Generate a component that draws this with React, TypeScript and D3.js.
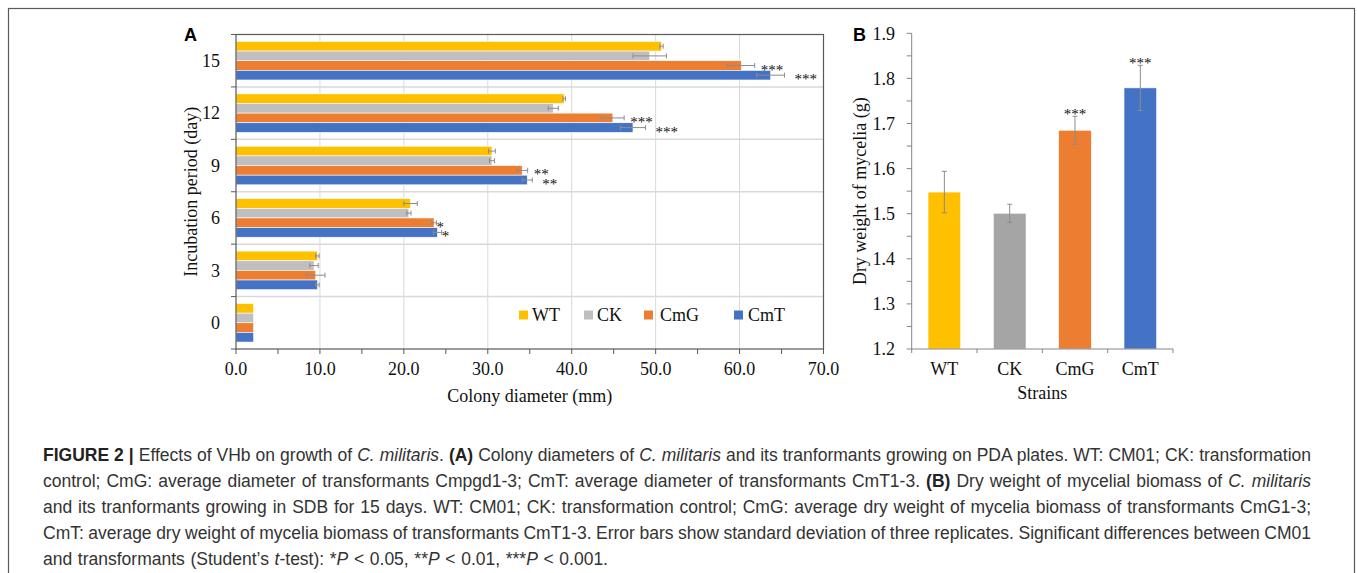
import React, { useEffect, useRef } from 'react';
import * as d3 from 'd3';

const W = 1357;
const H = 573;

// Panel A: colony diameter (mm) by incubation day
const days = [0, 3, 6, 9, 12, 15];
const strains = ['WT', 'CK', 'CmG', 'CmT'];
const diamWT = [2.1, 9.7, 20.8, 30.5, 39.1, 50.7];
const diamCK = [2.1, 9.3, 20.6, 30.5, 37.8, 49.3];
const diamCmG = [2.1, 9.5, 23.6, 34.1, 44.9, 60.2];
const diamCmT = [2.1, 9.7, 24.0, 34.7, 47.3, 63.7];
const errWT = [0, 0.2, 0.8, 0.4, 0.15, 0.2];
const errCK = [0, 0.5, 0.25, 0.3, 0.6, 2.0];
const errCmG = [0, 1.1, 0.3, 0.65, 1.35, 1.6];
const errCmT = [0, 0.2, 0.5, 0.6, 1.5, 1.65];
const sigCmG = ['', '', '*', '**', '***', '***'];
const sigCmT = ['', '', '*', '**', '***', '***'];
const xTicksA = [0, 10, 20, 30, 40, 50, 60, 70];

// Panel B: dry weight of mycelia (g)
const dryWeight = [1.548, 1.501, 1.685, 1.779];
const dryErr = [0.046, 0.02, 0.031, 0.05];
const drySig = ['', '', '***', '***'];
const yTicksB = [1.2, 1.3, 1.4, 1.5, 1.6, 1.7, 1.8, 1.9];

const colorsA = ['#FFC000', '#BFBFBF', '#ED7D31', '#4472C4'];
const colorsB = ['#FFC000', '#A5A5A5', '#ED7D31', '#4472C4'];

// caption runs: [text, style]  b = bold, i = italic
const caption: [string, string][][] = [
  [['FIGURE 2 | ', 'b'], ['Effects of VHb on growth of ', ''], ['C. militaris', 'i'], ['. ', ''], ['(A)', 'b'],
    [' Colony diameters of ', ''], ['C. militaris', 'i'], [' and its tranformants growing on PDA plates. WT: CM01; CK: transformation', '']],
  [['control; CmG: average diameter of transformants Cmpgd1-3; CmT: average diameter of transformants CmT1-3. ', ''], ['(B)', 'b'],
    [' Dry weight of mycelial biomass of ', ''], ['C. militaris', 'i']],
  [['and its tranformants growing in SDB for 15 days. WT: CM01; CK: transformation control; CmG: average dry weight of mycelia biomass of transformants CmG1-3;', '']],
  [['CmT: average dry weight of mycelia biomass of transformants CmT1-3. Error bars show standard deviation of three replicates. Significant differences between CM01', '']],
  [['and transformants (Student\u2019s ', ''], ['t', 'i'], ['-test): *', ''], ['P', 'i'], [' < 0.05, **', ''], ['P', 'i'],
    [' < 0.01, ***', ''], ['P', 'i'], [' < 0.001.', '']],
];

const serif = '"Liberation Serif", "Times New Roman", serif';
const sans = '"Liberation Sans", Arial, Helvetica, sans-serif';

export default function App() {
  const ref = useRef<SVGSVGElement>(null);

  useEffect(() => {
    document.body.style.margin = '0';
    document.body.style.overflow = 'hidden';
    const svg = d3.select(ref.current);
    svg.selectAll('*').remove();

    svg.append('rect')
      .attr('x', 8.5).attr('y', 8.5).attr('width', 1346).attr('height', 700)
      .attr('fill', 'none').attr('stroke', '#5a5a5a').attr('stroke-width', 1.2);

    // ---------- Panel A ----------
    const gA = svg.append('g');
    const left = 236, right = 823.5, top = 34.5, bottom = 349;
    const x = d3.scaleLinear().domain([0, 70]).range([left, right]);
    const y = d3.scaleBand<number>().domain([...days].reverse()).range([top, bottom]);
    const yi = d3.scaleBand<string>().domain(strains).range([0, y.bandwidth()]).paddingOuter(0.72);
    const values = [diamWT, diamCK, diamCmG, diamCmT];
    const errs = [errWT, errCK, errCmG, errCmT];

    gA.selectAll('line.vg').data(xTicksA.slice(1, -1)).join('line')
      .attr('x1', d => x(d)).attr('x2', d => x(d)).attr('y1', top).attr('y2', bottom)
      .attr('stroke', '#d9d9d9');
    gA.selectAll('line.hg').data([...days].reverse().slice(1)).join('line')
      .attr('x1', left).attr('x2', right).attr('y1', d => y(d)!).attr('y2', d => y(d)!)
      .attr('stroke', '#d9d9d9').attr('stroke-width', 1.5);

    strains.forEach((s, j) => {
      gA.append('g').selectAll('rect').data(days).join('rect')
        .attr('x', x(0))
        .attr('y', (d) => y(d)! + yi(s)!)
        .attr('width', (_, i) => x(values[j][i]) - x(0))
        .attr('height', yi.bandwidth())
        .attr('fill', colorsA[j])
        .attr('stroke', '#fff').attr('stroke-width', 0.6);

      const eb = gA.append('g').attr('stroke', '#8c8c8c').attr('stroke-width', 1);
      days.forEach((d, i) => {
        const e = errs[j][i];
        if (!e) return;
        const cy = y(d)! + yi(s)! + yi.bandwidth() / 2;
        const x0 = x(values[j][i] - e), x1 = x(values[j][i] + e);
        eb.append('line').attr('x1', x0).attr('x2', x1).attr('y1', cy).attr('y2', cy);
        eb.append('line').attr('x1', x0).attr('x2', x0).attr('y1', cy - 2.5).attr('y2', cy + 2.5);
        eb.append('line').attr('x1', x1).attr('x2', x1).attr('y1', cy - 2.5).attr('y2', cy + 2.5);
      });
    });

    const sigs: [string[], number][] = [[sigCmG, 2], [sigCmT, 3]];
    sigs.forEach(([sig, j]) => {
      const s = strains[j];
      gA.append('g').selectAll('text').data(days).join('text')
        .attr('x', (_, i) => {
          const pad = sig[i].length === 1 ? 0 : (j === 3 ? 10 : 6);
          return x(values[j][i] + errs[j][i]) + pad;
        })
        .attr('y', d => y(d)! + yi(s)! + yi.bandwidth() / 2 + 9)
        .attr('font-family', serif).attr('font-size', 15).attr('fill', '#111')
        .text((_, i) => sig[i]);
    });

    gA.append('rect')
      .attr('x', left).attr('y', top).attr('width', right - left).attr('height', bottom - top)
      .attr('fill', 'none').attr('stroke', '#595959').attr('stroke-width', 1.2);

    gA.selectAll('line.xt').data(d3.range(0, 71, 5)).join('line')
      .attr('x1', d => x(d)).attr('x2', d => x(d)).attr('y1', bottom).attr('y2', bottom + 5)
      .attr('stroke', '#595959');
    const bounds = [...days].reverse().map(d => y(d)!).concat([bottom]);
    gA.selectAll('line.yt').data(bounds).join('line')
      .attr('x1', left - 5).attr('x2', left).attr('y1', d => d).attr('y2', d => d)
      .attr('stroke', '#595959');

    gA.selectAll('text.xl').data(xTicksA).join('text')
      .attr('x', d => x(d)).attr('y', 375).attr('text-anchor', 'middle')
      .attr('font-family', serif).attr('font-size', 18).attr('fill', '#111')
      .text(d => d3.format('.1f')(d));
    gA.selectAll('text.yl').data(days).join('text')
      .attr('x', 220).attr('y', d => y(d)! + y.bandwidth() / 2).attr('dy', '0.35em')
      .attr('text-anchor', 'end')
      .attr('font-family', serif).attr('font-size', 18).attr('fill', '#111')
      .text(d => String(d));

    gA.append('text').attr('x', (left + right) / 2).attr('y', 402).attr('text-anchor', 'middle')
      .attr('font-family', serif).attr('font-size', 18).attr('fill', '#111')
      .text('Colony diameter (mm)');
    gA.append('text').attr('transform', `translate(197,${(top + bottom) / 2}) rotate(-90)`)
      .attr('text-anchor', 'middle')
      .attr('font-family', serif).attr('font-size', 18).attr('fill', '#111')
      .text('Incubation period (day)');
    gA.append('text').attr('x', 184).attr('y', 41)
      .attr('font-family', sans).attr('font-weight', 'bold').attr('font-size', 18).attr('fill', '#000')
      .text('A');

    // legend
    const legMarkX = [519, 584, 644, 734];
    const legTextX = [532, 597, 660, 748];
    strains.forEach((s, j) => {
      gA.append('rect').attr('x', legMarkX[j]).attr('y', 310.5).attr('width', 9).attr('height', 9)
        .attr('fill', colorsA[j]);
      gA.append('text').attr('x', legTextX[j]).attr('y', 321)
        .attr('font-family', serif).attr('font-size', 18).attr('fill', '#111').text(s);
    });

    // ---------- Panel B ----------
    const gB = svg.append('g');
    const bl = 911.7, br = 1173, bt = 33.3, bb = 349;
    const xb = d3.scaleBand<string>().domain(strains).range([bl, br]).paddingInner(0.5).paddingOuter(0.25);
    const yb = d3.scaleLinear().domain([1.2, 1.9]).range([bb, bt]);

    gB.selectAll('rect').data(strains).join('rect')
      .attr('x', d => xb(d)!).attr('width', xb.bandwidth())
      .attr('y', (_, i) => yb(dryWeight[i])).attr('height', (_, i) => bb - yb(dryWeight[i]))
      .attr('fill', (_, i) => colorsB[i])
      .attr('stroke', '#fff').attr('stroke-width', 0.6);

    const ebB = gB.append('g').attr('stroke', '#8c8c8c').attr('stroke-width', 1);
    strains.forEach((s, i) => {
      const cx = xb(s)! + xb.bandwidth() / 2;
      const y0 = yb(dryWeight[i] - dryErr[i]), y1 = yb(dryWeight[i] + dryErr[i]);
      ebB.append('line').attr('x1', cx).attr('x2', cx).attr('y1', y0).attr('y2', y1);
      ebB.append('line').attr('x1', cx - 2.5).attr('x2', cx + 2.5).attr('y1', y0).attr('y2', y0);
      ebB.append('line').attr('x1', cx - 2.5).attr('x2', cx + 2.5).attr('y1', y1).attr('y2', y1);
      if (drySig[i]) {
        gB.append('text').attr('x', cx).attr('y', y1 + 3).attr('text-anchor', 'middle')
          .attr('font-family', serif).attr('font-size', 15).attr('fill', '#111').text(drySig[i]);
      }
    });

    const axisCol = '#868686';
    gB.append('line').attr('x1', bl).attr('x2', bl).attr('y1', bt).attr('y2', bb).attr('stroke', axisCol);
    gB.append('line').attr('x1', bl).attr('x2', br).attr('y1', bb).attr('y2', bb).attr('stroke', axisCol);
    gB.selectAll('line.yt').data(d3.range(0, 15).map(k => 1.2 + k * 0.05)).join('line')
      .attr('x1', bl - 5).attr('x2', bl).attr('y1', d => yb(d)).attr('y2', d => yb(d)).attr('stroke', axisCol);
    const bBounds = strains.map(s => xb(s)! - xb.step() * 0.25).concat([br]);
    gB.selectAll('line.xt').data(bBounds).join('line')
      .attr('x1', d => d).attr('x2', d => d).attr('y1', bb).attr('y2', bb + 4).attr('stroke', axisCol);

    gB.selectAll('text.yl').data(yTicksB).join('text')
      .attr('x', 895).attr('y', d => yb(d)).attr('dy', '0.35em').attr('text-anchor', 'end')
      .attr('font-family', serif).attr('font-size', 18).attr('fill', '#111')
      .text(d => d3.format('.1f')(d));
    gB.selectAll('text.xl').data(strains).join('text')
      .attr('x', d => xb(d)! + xb.bandwidth() / 2).attr('y', 375).attr('text-anchor', 'middle')
      .attr('font-family', serif).attr('font-size', 18).attr('fill', '#111')
      .text(d => d);
    gB.append('text').attr('x', (bl + br) / 2).attr('y', 399).attr('text-anchor', 'middle')
      .attr('font-family', serif).attr('font-size', 18).attr('fill', '#111').text('Strains');
    gB.append('text').attr('transform', `translate(866,${(bt + bb) / 2}) rotate(-90)`)
      .attr('text-anchor', 'middle')
      .attr('font-family', serif).attr('font-size', 18).attr('fill', '#111')
      .text('Dry weight of mycelia (g)');
    gB.append('text').attr('x', 853).attr('y', 41)
      .attr('font-family', sans).attr('font-weight', 'bold').attr('font-size', 18).attr('fill', '#000')
      .text('B');

    // ---------- Caption ----------
    // lines 1-4 are justified to the caption width; the last line ends near x = 608
    const capX = 43, capRight = 1311, lastRight = 608, capY0 = 461, capDy = 26;
    caption.forEach((runs, li) => {
      const t = svg.append('text').attr('x', capX).attr('y', capY0 + li * capDy)
        .attr('font-family', sans).attr('font-size', 17.5).attr('fill', '#333')
        .attr('xml:space', 'preserve').style('white-space', 'pre');
      runs.forEach(([txt, st]) => {
        const ts = t.append('tspan').text(txt);
        if (st === 'b') ts.attr('font-weight', 'bold').attr('fill', '#222');
        if (st === 'i') ts.attr('font-style', 'italic');
      });
      const target = li < caption.length - 1 ? capRight : lastRight;
      const node = t.node() as SVGTextElement;
      const len = node.getComputedTextLength();
      const spaces = runs.map(r => r[0]).join('').split(' ').length - 1;
      if (spaces > 0) t.attr('word-spacing', (target - capX - len) / spaces);
    });
  }, []);

  return <svg ref={ref} width={W} height={H} style={{ display: 'block', background: '#fff' }} />;
}
